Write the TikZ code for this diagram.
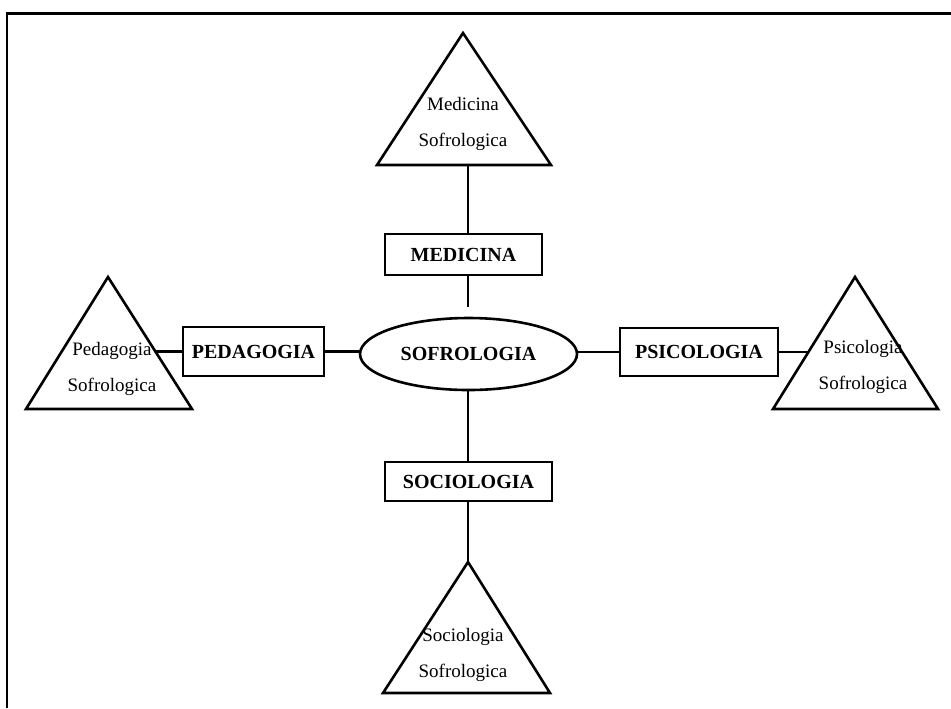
\documentclass[tikz,border=0pt]{standalone}
\usepackage{fontspec}
\setmainfont{Liberation Serif}
\usepackage{tikz}
\usetikzlibrary{shapes.geometric}

\tikzset{
  area/.style={draw, line width=1.3pt, inner sep=0pt, font=\fontsize{10}{12}\selectfont\bfseries},
  hub/.style={draw, ellipse, line width=1.3pt, minimum width=108.5pt, minimum height=36pt, inner sep=0pt, font=\fontsize{10}{12}\selectfont\bfseries},
  link/.style={line width=1.3pt},
  tri/.style={line width=1.3pt, line join=miter},
  trilabel/.style={align=center, inner sep=0pt, font=\fontsize{9.5}{18}\selectfont},
}

\begin{document}
\begin{tikzpicture}[x=0.5pt, y=-0.5pt]
\useasboundingbox (0,0) rectangle (951,708);
% frame
\draw[line width=1.35pt] (7,708) -- (7,13.5) -- (951,13.5);

% centre and the four branches
\node[hub] (sof) at (468.5,354) {SOFROLOGIA};
\node[area, minimum width=78.5pt, minimum height=20.5pt] (med) at (463.5,254.5) {MEDICINA};
\node[area, minimum width=83.5pt, minimum height=19.5pt] (soc) at (468.5,481.5) {SOCIOLOGIA};
\node[area, minimum width=70.5pt, minimum height=24.5pt] (ped) at (253.5,351.5) {PEDAGOGIA};
\node[area, minimum width=79pt, minimum height=24pt] (psi) at (699,352) {PSICOLOGIA};

% triangles
\draw[tri] (463,33) -- (551,165) -- (377,165) -- cycle;
\draw[tri] (468,562) -- (550,693) -- (383,693) -- cycle;
\draw[tri] (108,277) -- (192,409) -- (26,409) -- cycle;
\draw[tri] (855,277) -- (938,409) -- (773,409) -- cycle;
\coordinate (medtri) at (468,165);
\coordinate (soctri) at (468,562);
\coordinate (pedtri) at (155,351.5);
\coordinate (psitri) at (809,352);

\node[trilabel] (medlbl) at (463,124) {Medicina\\Sofrologica};
\node[trilabel] (soclbl) at (463,655) {Sociologia\\Sofrologica};
\node[trilabel] (pedlbl) at (112,368.5) {Pedagogia\\Sofrologica};
\node[trilabel] (psilbl) at (863,366.5) {Psicologia\\Sofrologica};

% connectors
\draw[link] (medtri) -- (medtri |- med.north);
\draw[link, shorten >=5pt] (medtri |- med.south) -- (medtri |- sof.north);
\draw[link] (medtri |- sof.south) -- (medtri |- soc.north);
\draw[link] (medtri |- soc.south) -- (soctri);
\draw[link] (pedtri) -- (ped.west);
\draw[link] (ped.east) -- (ped.east -| sof.west);
\draw[link] (psi.west -| sof.east) -- (psi.west);
\draw[link] (psi.east) -- (psitri);
\end{tikzpicture}
\end{document}
